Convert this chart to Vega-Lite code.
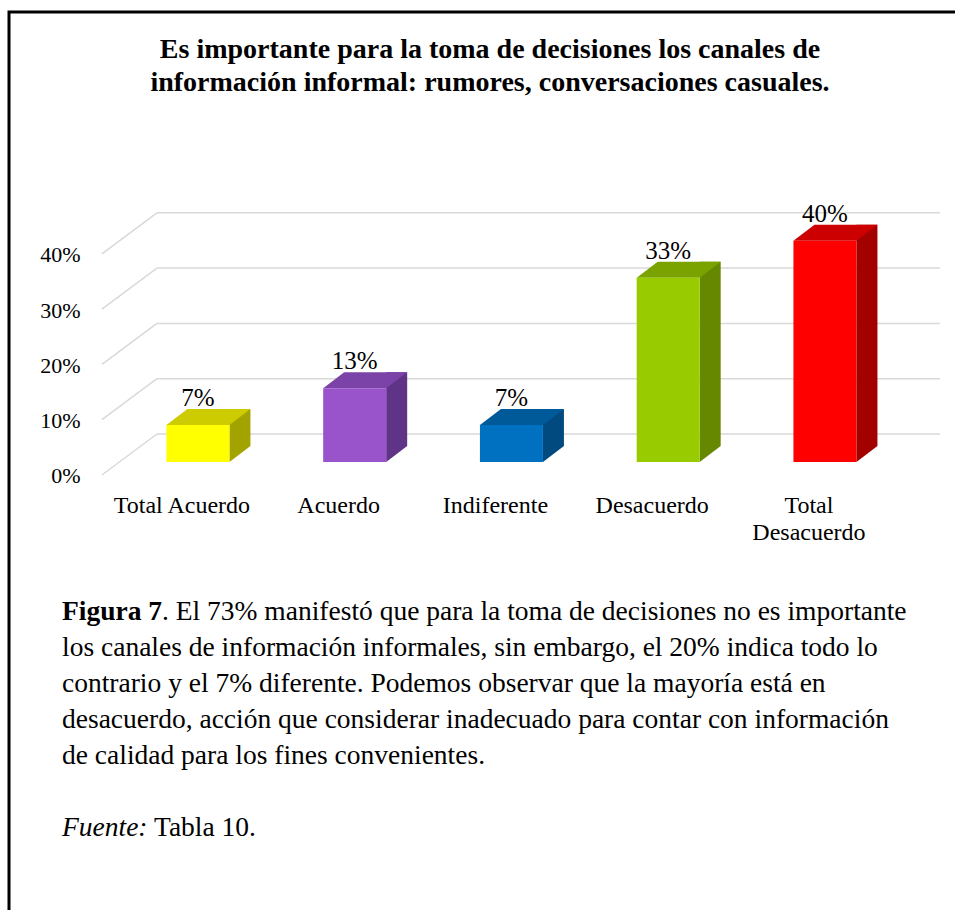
{
  "$schema": "https://vega.github.io/schema/vega-lite/v6.json",
  "width": 946,
  "height": 898,
  "autosize": {"type": "none"},
  "padding": {"left": 9, "top": 12, "right": 0, "bottom": 0},
  "background": "white",
  "config": {
    "view": {"stroke": "black", "strokeWidth": 3, "strokeDash": [946, 1844, 898]},
    "font": "Liberation Serif"
  },
  "datasets": {
    "bars": [
      {"cat": "Total Acuerdo", "pct": 0.0667},
      {"cat": "Acuerdo", "pct": 0.1333},
      {"cat": "Indiferente", "pct": 0.0667},
      {"cat": "Desacuerdo", "pct": 0.3333},
      {"cat": "Total Desacuerdo", "pct": 0.4}
    ],
    "grid": [{"v": 0}, {"v": 0.1}, {"v": 0.2}, {"v": 0.3}, {"v": 0.4}]
  },
  "title": {
    "text": ["Es importante para la toma de decisiones los canales de", "información informal: rumores, conversaciones casuales."],
    "font": "Liberation Serif",
    "fontSize": 28,
    "fontWeight": "bold",
    "color": "black",
    "anchor": "middle",
    "baseline": "alphabetic",
    "offset": 0,
    "dy": 107,
    "dx": 8,
    "lineHeight": 33
  },
  "layer": [
    {
      "layer": [
        {
          "data": {"name": "grid"},
          "mark": {"type": "rule", "color": "#d9d9d9", "strokeWidth": 1.5, "xOffset": -41, "x2Offset": 115, "yOffset": -28},
          "encoding": {
            "x": {"datum": "Total Acuerdo", "type": "nominal"},
            "x2": {"datum": "Total Desacuerdo"},
            "y": {
              "field": "v",
              "type": "quantitative",
              "scale": {"domain": [-0.81013, 0.81374], "nice": false, "zero": false},
              "axis": {
                "values": [0, 0.1, 0.2, 0.3, 0.4],
                "format": ".0%",
                "grid": false,
                "domain": false,
                "ticks": false,
                "labelPadding": 0,
                "offset": -71,
                "labelFontSize": 22,
                "labelFont": "Liberation Serif",
                "labelColor": "black",
                "labelOffset": 14,
                "labelAlign": "right",
                "labelBaseline": "middle",
                "title": null
              }
            }
          }
        },
        {
          "data": {"name": "grid"},
          "mark": {"type": "rule", "color": "#d9d9d9", "strokeWidth": 1.5, "xOffset": -96, "x2Offset": -41, "yOffset": 13, "y2Offset": -28},
          "encoding": {
            "x": {"datum": "Total Acuerdo", "type": "nominal"},
            "x2": {"datum": "Total Acuerdo"},
            "y": {"field": "v", "type": "quantitative"},
            "y2": {"field": "v"}
          }
        },
        {
          "data": {"name": "bars"},
          "mark": {"type": "bar", "width": 21, "xOffset": 42, "yOffset": -16, "y2Offset": -16},
          "encoding": {
            "x": {
              "field": "cat",
              "type": "nominal",
              "scale": {
                "domain": ["Total Acuerdo", "Acuerdo", "Indiferente", "Desacuerdo", "Total Desacuerdo"],
                "paddingInner": 0.598,
                "paddingOuter": 0.8165,
                "align": 0.615
              },
              "axis": {
                "orient": "bottom",
                "offset": -398,
                "domain": false,
                "ticks": false,
                "labelPadding": 0,
                "labelAlign": "center",
                "labelBaseline": "alphabetic",
                "labelFontSize": 24,
                "labelFont": "Liberation Serif",
                "labelColor": "black",
                "labelOffset": -16,
                "labelAngle": 0,
                "labelLineHeight": 27,
                "labelOverlap": false,
                "labelLimit": 0,
                "title": null,
                "labelExpr": "datum.value == 'Total Desacuerdo' ? ['Total', 'Desacuerdo'] : datum.value"
              }
            },
            "y": {"field": "pct", "type": "quantitative"},
            "y2": {"datum": 0},
            "color": {
              "field": "cat",
              "type": "nominal",
              "scale": {
                "domain": ["Total Acuerdo", "Acuerdo", "Indiferente", "Desacuerdo", "Total Desacuerdo"],
                "range": ["#A3A300", "#5F3385", "#004A80", "#668800", "#A30000"]
              },
              "legend": null
            }
          }
        },
        {
          "data": {"name": "bars"},
          "mark": {"type": "point", "filled": true, "opacity": 1, "strokeWidth": 0, "size": 11025, "shape": "M0.6,-0.3048L0.6,0L1,-0.3048Z"},
          "encoding": {
            "x": {"field": "cat", "type": "nominal"},
            "y": {"datum": 0, "type": "quantitative"},
            "color": {
              "field": "cat",
              "type": "nominal",
              "scale": {
                "domain": ["Total Acuerdo", "Acuerdo", "Indiferente", "Desacuerdo", "Total Desacuerdo"],
                "range": ["#A3A300", "#5F3385", "#004A80", "#668800", "#A30000"]
              },
              "legend": null
            }
          }
        },
        {
          "data": {"name": "bars"},
          "mark": {"type": "point", "filled": true, "opacity": 1, "strokeWidth": 0, "size": 11025, "shape": "M-0.6,0L0.6,0L1,-0.3048L-0.2,-0.3048Z"},
          "encoding": {
            "x": {"field": "cat", "type": "nominal"},
            "y": {"field": "pct", "type": "quantitative"},
            "color": {
              "field": "cat",
              "type": "nominal",
              "scale": {
                "domain": ["Total Acuerdo", "Acuerdo", "Indiferente", "Desacuerdo", "Total Desacuerdo"],
                "range": ["#CCCC00", "#7B42A8", "#005A9A", "#7AA300", "#CC0000"]
              },
              "legend": null
            }
          }
        },
        {
          "data": {"name": "bars"},
          "mark": {"type": "bar"},
          "encoding": {
            "x": {"field": "cat", "type": "nominal"},
            "y": {"field": "pct", "type": "quantitative"},
            "y2": {"datum": 0},
            "color": {
              "field": "cat",
              "type": "nominal",
              "scale": {
                "domain": ["Total Acuerdo", "Acuerdo", "Indiferente", "Desacuerdo", "Total Desacuerdo"],
                "range": ["#FFFF00", "#9954CC", "#0070C0", "#99CC00", "#FF0000"]
              },
              "legend": null
            }
          }
        },
        {
          "data": {"name": "bars"},
          "mark": {"type": "text", "fontSize": 25, "font": "Liberation Serif", "color": "black", "baseline": "alphabetic", "dy": -19},
          "encoding": {
            "x": {"field": "cat", "type": "nominal"},
            "y": {"field": "pct", "type": "quantitative"},
            "text": {"field": "pct", "type": "quantitative", "format": ".0%"}
          }
        }
      ],
      "resolve": {"scale": {"color": "independent"}}
    },
    {
      "layer": [
        {
          "data": {"values": [
            {"line": 2, "text": "los canales de información informales, sin embargo, el 20% indica todo lo"},
            {"line": 3, "text": "contrario y el 7% diferente. Podemos observar que la mayoría está en"},
            {"line": 4, "text": "desacuerdo, acción que considerar inadecuado para contar con información"},
            {"line": 5, "text": "de calidad para los fines convenientes."}
          ]},
          "mark": {"type": "text", "align": "left", "baseline": "alphabetic", "fontSize": 27.5, "font": "Liberation Serif", "color": "black"},
          "encoding": {
            "x": {"value": 53},
            "y": {"field": "line", "type": "quantitative", "scale": {"domain": [-15.889, 9.056], "reverse": true, "nice": false, "zero": false}, "axis": null},
            "text": {"field": "text"}
          }
        },
        {
          "data": {"values": [{"line": 1, "text": "Figura 7"}]},
          "mark": {"type": "text", "align": "left", "baseline": "alphabetic", "fontSize": 27.5, "fontWeight": "bold", "font": "Liberation Serif", "color": "black"},
          "encoding": {
            "x": {"value": 53},
            "y": {"field": "line", "type": "quantitative"},
            "text": {"field": "text"}
          }
        },
        {
          "data": {"values": [{"line": 1, "text": ". El 73% manifestó que para la toma de decisiones no es importante"}]},
          "mark": {"type": "text", "align": "left", "baseline": "alphabetic", "fontSize": 27.5, "font": "Liberation Serif", "color": "black", "dx": 100},
          "encoding": {
            "x": {"value": 53},
            "y": {"field": "line", "type": "quantitative"},
            "text": {"field": "text"}
          }
        },
        {
          "data": {"values": [{"line": 7, "text": "Fuente:"}]},
          "mark": {"type": "text", "align": "left", "baseline": "alphabetic", "fontSize": 27.5, "fontStyle": "italic", "font": "Liberation Serif", "color": "black"},
          "encoding": {
            "x": {"value": 53},
            "y": {"field": "line", "type": "quantitative"},
            "text": {"field": "text"}
          }
        },
        {
          "data": {"values": [{"line": 7, "text": "Tabla 10."}]},
          "mark": {"type": "text", "align": "left", "baseline": "alphabetic", "fontSize": 27.5, "font": "Liberation Serif", "color": "black", "dx": 92},
          "encoding": {
            "x": {"value": 53},
            "y": {"field": "line", "type": "quantitative"},
            "text": {"field": "text"}
          }
        }
      ]
    }
  ],
  "resolve": {"scale": {"y": "independent"}}
}
